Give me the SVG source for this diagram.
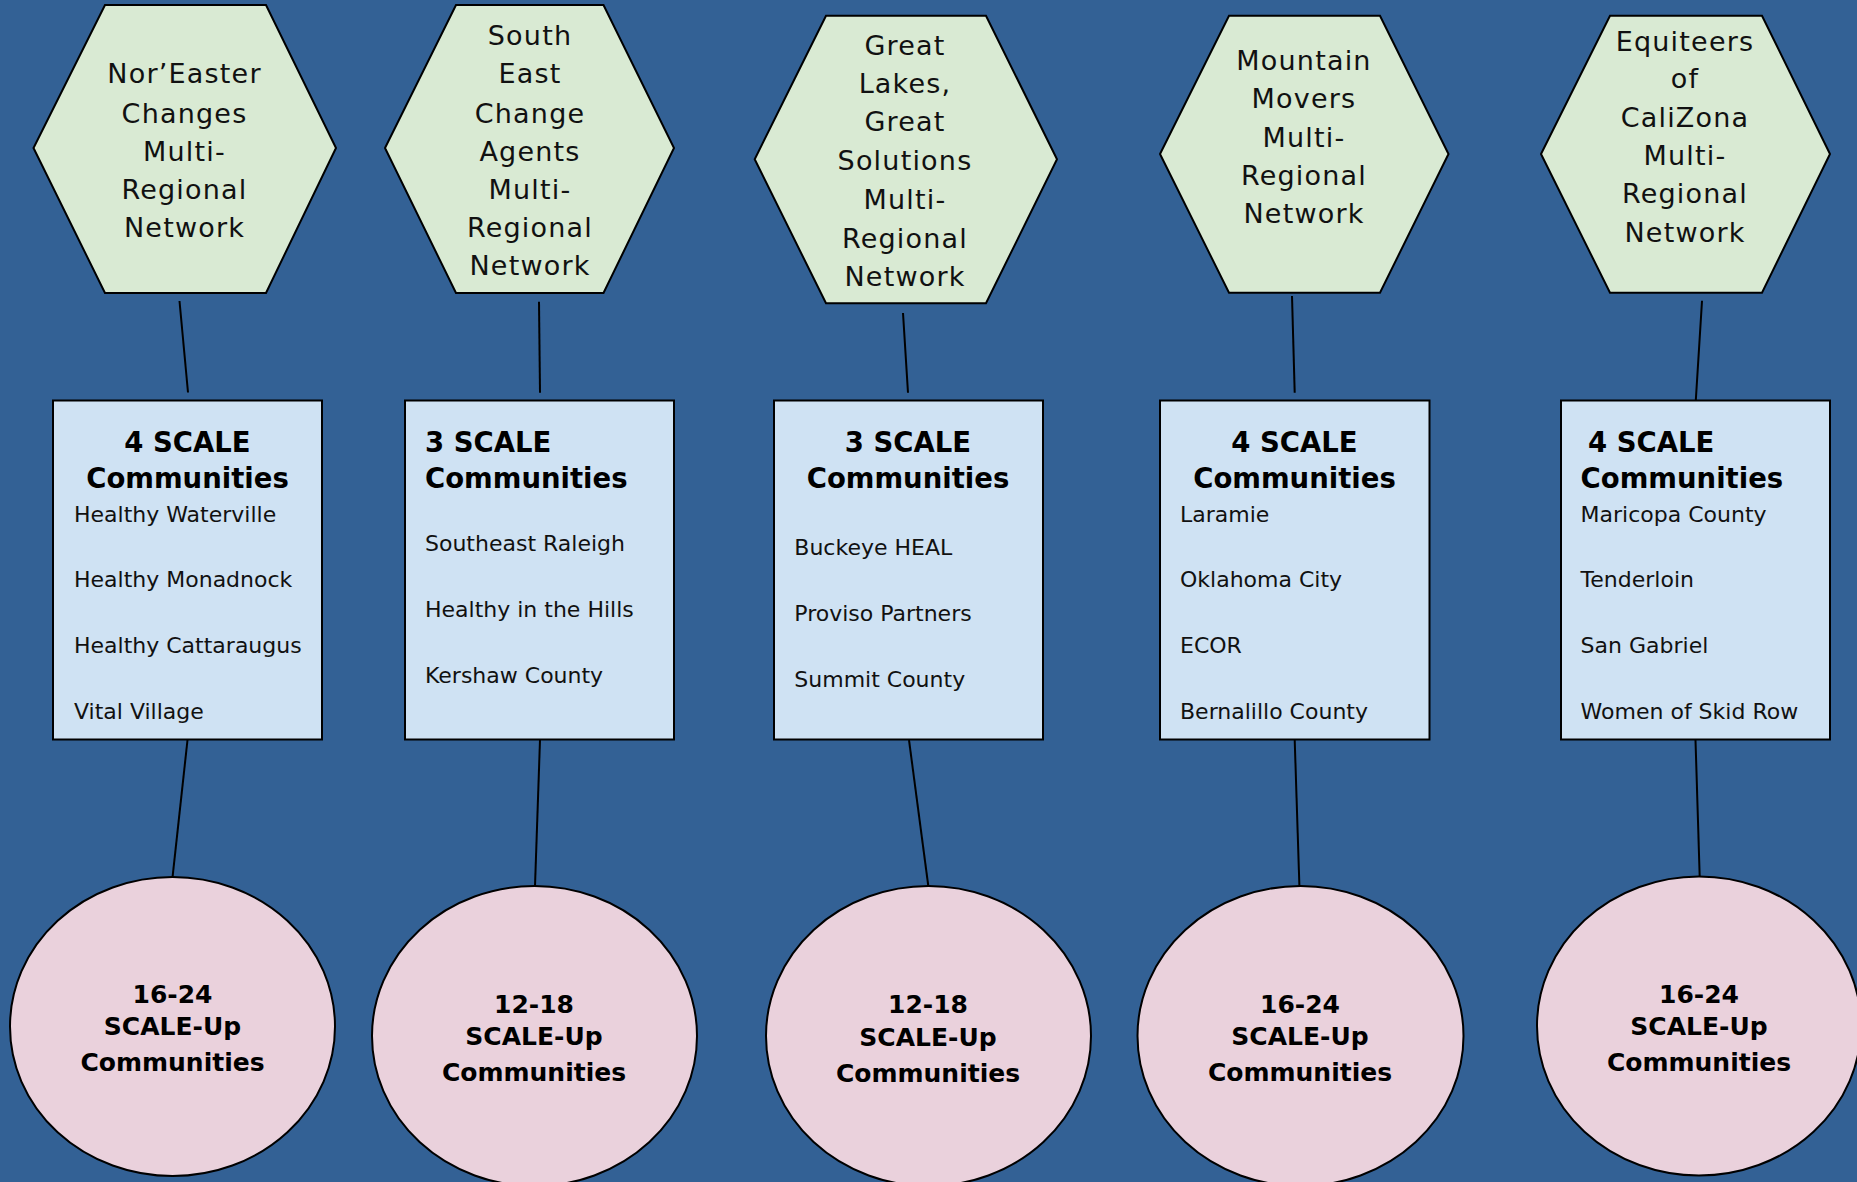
<svg xmlns="http://www.w3.org/2000/svg" width="1857" height="1182" viewBox="0 0 1857 1182">
<style>
.hex{fill:#d9ead3;stroke:#000;stroke-width:2}
.box{fill:#cfe2f3;stroke:#000;stroke-width:2}
.ell{fill:#ead1dc;stroke:#000;stroke-width:2}
.ln{stroke:#000;stroke-width:2;fill:none}
.ht{font-family:"DejaVu Sans",sans-serif;font-size:27px;fill:#111;text-anchor:middle;letter-spacing:1.2px}
.tt{font-family:"DejaVu Sans",sans-serif;font-size:27.5px;font-weight:bold;fill:#000}
.c{text-anchor:middle}
.it{font-family:"DejaVu Sans",sans-serif;font-size:22px;fill:#111}
.et{font-family:"DejaVu Sans",sans-serif;font-size:25px;font-weight:bold;fill:#000;text-anchor:middle}
</style>
<rect width="1857" height="1182" fill="#336195"/>
<g id="connectors">
<line class="ln" x1="179.5" y1="301" x2="188" y2="392.5"/>
<line class="ln" x1="539" y1="301.7" x2="540" y2="392.7"/>
<line class="ln" x1="903" y1="313" x2="908" y2="392.7"/>
<line class="ln" x1="1292" y1="296" x2="1294.7" y2="392.7"/>
<line class="ln" x1="1702" y1="300.7" x2="1695.7" y2="402"/>
<line class="ln" x1="187.5" y1="740" x2="172.6" y2="876.7"/>
<line class="ln" x1="540" y1="740" x2="535" y2="886"/>
<line class="ln" x1="909" y1="740" x2="928.3" y2="886"/>
<line class="ln" x1="1294.7" y1="740" x2="1299.4" y2="886"/>
<line class="ln" x1="1695.5" y1="740" x2="1699.7" y2="876.7"/>
</g>
<g id="hex1">
<polygon class="hex" points="105,5 266,5 336,148 266,293 105,293 33.5,148"/>
<text class="ht" x="184.5" y="83.3">Nor’Easter</text>
<text class="ht" x="184.5" y="122.7">Changes</text>
<text class="ht" x="184.5" y="160.7">Multi-</text>
<text class="ht" x="184.5" y="199">Regional</text>
<text class="ht" x="184.5" y="237.3">Network</text>
</g>
<g id="hex2">
<polygon class="hex" points="456,5 603.5,5 674,148 603.5,293 456,293 385,148"/>
<text class="ht" x="530" y="45">South</text>
<text class="ht" x="530" y="83.3">East</text>
<text class="ht" x="530" y="122.7">Change</text>
<text class="ht" x="530" y="160.7">Agents</text>
<text class="ht" x="530" y="199">Multi-</text>
<text class="ht" x="530" y="237.3">Regional</text>
<text class="ht" x="530" y="275.3">Network</text>
</g>
<g id="hex3">
<polygon class="hex" points="826,15.7 986,15.7 1057,159.3 986,303.3 826,303.3 754.7,159.3"/>
<text class="ht" x="905" y="55">Great</text>
<text class="ht" x="905" y="93.3">Lakes,</text>
<text class="ht" x="905" y="131">Great</text>
<text class="ht" x="905" y="170">Solutions</text>
<text class="ht" x="905" y="209.3">Multi-</text>
<text class="ht" x="905" y="248.3">Regional</text>
<text class="ht" x="905" y="286">Network</text>
</g>
<g id="hex4">
<polygon class="hex" points="1229,15.7 1380,15.7 1448.5,154 1380,292.7 1229,292.7 1160,154"/>
<text class="ht" x="1304" y="70">Mountain</text>
<text class="ht" x="1304" y="108.3">Movers</text>
<text class="ht" x="1304" y="146.7">Multi-</text>
<text class="ht" x="1304" y="185">Regional</text>
<text class="ht" x="1304" y="223.3">Network</text>
</g>
<g id="hex5">
<polygon class="hex" points="1610,15.7 1762,15.7 1830,154 1762,292.7 1610,292.7 1541,154"/>
<text class="ht" x="1685" y="50.7">Equiteers</text>
<text class="ht" x="1685" y="88.3">of</text>
<text class="ht" x="1685" y="126.7">CaliZona</text>
<text class="ht" x="1685" y="165">Multi-</text>
<text class="ht" x="1685" y="203.3">Regional</text>
<text class="ht" x="1685" y="241.7">Network</text>
</g>
<g id="box1">
<rect class="box" x="53" y="400.5" width="269" height="339"/>
<text class="tt c" x="187.5" y="451.5">4 SCALE</text>
<text class="tt c" x="187.5" y="488">Communities</text>
<text class="it" x="74" y="521.7">Healthy Waterville</text>
<text class="it" x="74" y="587.3">Healthy Monadnock</text>
<text class="it" x="74" y="653.3">Healthy Cattaraugus</text>
<text class="it" x="74" y="719.3">Vital Village</text>
</g>
<g id="box2">
<rect class="box" x="405" y="400.5" width="269" height="339"/>
<text class="tt" x="425" y="451.5">3 SCALE</text>
<text class="tt" x="425" y="488">Communities</text>
<text class="it" x="425" y="550.7">Southeast Raleigh</text>
<text class="it" x="425" y="616.7">Healthy in the Hills</text>
<text class="it" x="425" y="683">Kershaw County</text>
</g>
<g id="box3">
<rect class="box" x="774" y="400.5" width="269" height="339"/>
<text class="tt c" x="908" y="451.7">3 SCALE</text>
<text class="tt c" x="908" y="488">Communities</text>
<text class="it" x="794.3" y="555">Buckeye HEAL</text>
<text class="it" x="794.3" y="620.7">Proviso Partners</text>
<text class="it" x="794.3" y="686.7">Summit County</text>
</g>
<g id="box4">
<rect class="box" x="1160" y="400.5" width="269.5" height="339"/>
<text class="tt c" x="1294.5" y="451.5">4 SCALE</text>
<text class="tt c" x="1294.5" y="488">Communities</text>
<text class="it" x="1180" y="521.7">Laramie</text>
<text class="it" x="1180" y="587.3">Oklahoma City</text>
<text class="it" x="1180" y="653.3">ECOR</text>
<text class="it" x="1180" y="719.3">Bernalillo County</text>
</g>
<g id="box5">
<rect class="box" x="1561" y="400.5" width="269" height="339"/>
<text class="tt" x="1588" y="451.5">4 SCALE</text>
<text class="tt" x="1580.6" y="488">Communities</text>
<text class="it" x="1580.6" y="521.7">Maricopa County</text>
<text class="it" x="1580.6" y="587.3">Tenderloin</text>
<text class="it" x="1580.6" y="653.3">San Gabriel</text>
<text class="it" x="1580.6" y="719.3">Women of Skid Row</text>
</g>
<g id="circle1">
<ellipse class="ell" cx="172.5" cy="1026.5" rx="162.5" ry="149.5"/>
<text class="et" x="172.5" y="1002.7">16-24</text>
<text class="et" x="172.5" y="1035">SCALE-Up</text>
<text class="et" x="172.5" y="1070.7">Communities</text>
</g>
<g id="circle2">
<ellipse class="ell" cx="534.5" cy="1036" rx="162.5" ry="150"/>
<text class="et" x="534" y="1012.7">12-18</text>
<text class="et" x="534" y="1045">SCALE-Up</text>
<text class="et" x="534" y="1080.7">Communities</text>
</g>
<g id="circle3">
<ellipse class="ell" cx="928.5" cy="1036" rx="162.5" ry="150"/>
<text class="et" x="928" y="1012.7">12-18</text>
<text class="et" x="928" y="1045.7">SCALE-Up</text>
<text class="et" x="928" y="1081.7">Communities</text>
</g>
<g id="circle4">
<ellipse class="ell" cx="1300.5" cy="1036" rx="163" ry="150"/>
<text class="et" x="1300" y="1012.7">16-24</text>
<text class="et" x="1300" y="1045">SCALE-Up</text>
<text class="et" x="1300" y="1080.7">Communities</text>
</g>
<g id="circle5">
<ellipse class="ell" cx="1699" cy="1026" rx="162" ry="149.5"/>
<text class="et" x="1699" y="1002.7">16-24</text>
<text class="et" x="1699" y="1035">SCALE-Up</text>
<text class="et" x="1699" y="1070.7">Communities</text>
</g>
</svg>
